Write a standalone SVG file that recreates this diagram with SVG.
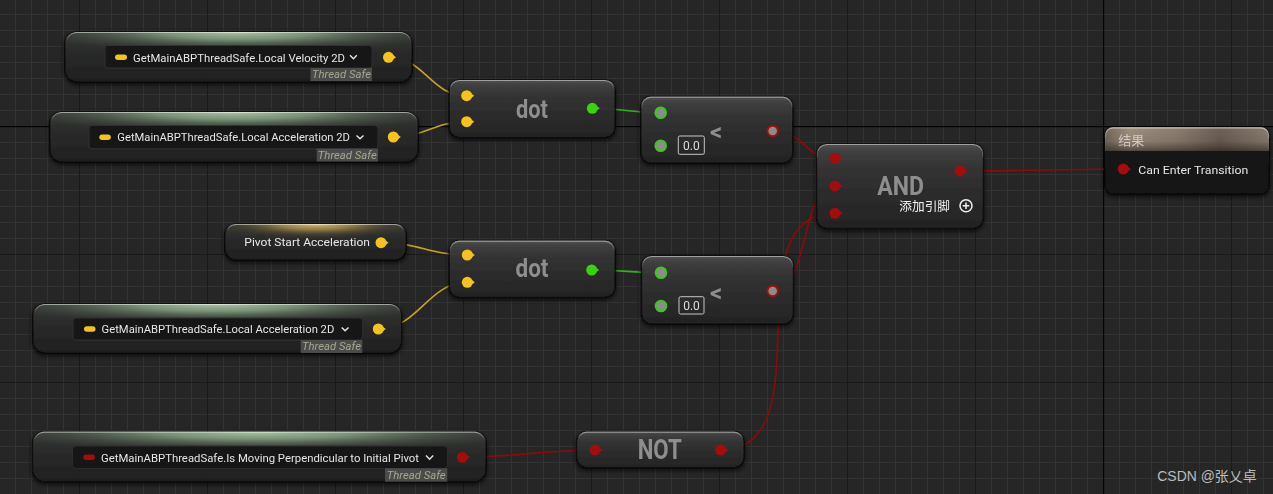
<svg xmlns="http://www.w3.org/2000/svg" width="1273" height="494" viewBox="0 0 1273 494">
<style>
.lbl{font-family:Roboto,"Liberation Sans",sans-serif;font-size:11.5px;fill:#e6e6e6}
.ts{font-family:Roboto,"Liberation Sans",sans-serif;font-size:11px;font-style:italic;fill:#a6a690;text-anchor:middle}
.tsb{fill:#4b4b4b}
.box{fill:#141414;stroke:#303030;stroke-width:1}
.chev{fill:none;stroke:#e8e8e8;stroke-width:1.4}
.title{font-family:Roboto,"Liberation Sans",sans-serif;font-weight:bold;fill:#8e8e8e;text-anchor:middle}
.body{fill:url(#gNode);fill-opacity:0.9;stroke:#080808;stroke-width:1.2}
.gbody{fill:url(#gGet);fill-opacity:0.92;stroke:#080808;stroke-width:1.2}
.hl{fill:none;stroke:url(#gHl);stroke-width:1.2}
.yel{fill:#f6c31b}
.red{fill:#a30d0d}
.grn{fill:#3ad10f}
.ringg{fill:#8c8c8c;stroke:#3cc81c;stroke-width:2}
.ringr{fill:#8c8c8c;stroke:#a00e0e;stroke-width:2}
.num{fill:none;stroke:#c4c4c4;stroke-width:1}
.numt{font-family:Roboto,"Liberation Sans",sans-serif;font-size:12px;fill:#dcdcdc;text-anchor:middle}
.w{fill:none;stroke-width:1.6}
.wy{stroke:#c9a21f}
.wg{stroke:#2fb51a}
.wr{stroke:#8e0a0a}
</style>
<defs>
<pattern id="minor" width="16" height="16" patternUnits="userSpaceOnUse">
<rect x="15" y="0" width="1" height="16" fill="#333333"/>
<rect x="0" y="14" width="16" height="1" fill="#333333"/>
</pattern>
<pattern id="major" width="128" height="128" patternUnits="userSpaceOnUse">
<rect x="79" y="0" width="1" height="128" fill="#1a1a1a"/>
<rect x="0" y="126" width="128" height="1" fill="#1a1a1a"/>
</pattern>
<linearGradient id="gNode" x1="0" y1="0" x2="0" y2="1">
<stop offset="0" stop-color="#565656"/>
<stop offset="0.08" stop-color="#444444"/>
<stop offset="0.3" stop-color="#353535"/>
<stop offset="0.65" stop-color="#2c2c2c"/>
<stop offset="1" stop-color="#242424"/>
</linearGradient>
<linearGradient id="gGet" x1="0" y1="0" x2="0" y2="1">
<stop offset="0" stop-color="#3a3c3a"/>
<stop offset="0.4" stop-color="#2a2b2a"/>
<stop offset="1" stop-color="#202020"/>
</linearGradient>
<linearGradient id="gHl" x1="0" y1="0" x2="0" y2="1">
<stop offset="0" stop-color="#ffffff" stop-opacity="0.55"/>
<stop offset="0.18" stop-color="#ffffff" stop-opacity="0.05"/>
<stop offset="1" stop-color="#ffffff" stop-opacity="0"/>
</linearGradient>
<radialGradient id="glowG" cx="0.5" cy="0" r="0.5" gradientTransform="translate(0.5 0) scale(1.25 0.85) translate(-0.5 0)">
<stop offset="0" stop-color="#b0cdac" stop-opacity="0.95"/>
<stop offset="0.35" stop-color="#90ae8c" stop-opacity="0.75"/>
<stop offset="0.7" stop-color="#5a6c58" stop-opacity="0.35"/>
<stop offset="1" stop-color="#303830" stop-opacity="0"/>
</radialGradient>
<radialGradient id="glowY" cx="0.5" cy="0" r="0.5" gradientTransform="translate(0.5 0) scale(1.2 0.9) translate(-0.5 0)">
<stop offset="0" stop-color="#e6c66a" stop-opacity="0.95"/>
<stop offset="0.35" stop-color="#b89a4a" stop-opacity="0.7"/>
<stop offset="0.7" stop-color="#5e5030" stop-opacity="0.3"/>
<stop offset="1" stop-color="#3a3020" stop-opacity="0"/>
</radialGradient>
<linearGradient id="gRes" x1="0" y1="0" x2="1" y2="0">
<stop offset="0" stop-color="#75685c"/>
<stop offset="0.15" stop-color="#a09080"/>
<stop offset="0.45" stop-color="#8c7d6e"/>
<stop offset="0.7" stop-color="#6e6056"/>
<stop offset="1" stop-color="#8a7d70"/>
</linearGradient>
<linearGradient id="gResV" x1="0" y1="0" x2="0" y2="1">
<stop offset="0" stop-color="#000" stop-opacity="0"/>
<stop offset="0.6" stop-color="#000" stop-opacity="0.1"/>
<stop offset="1" stop-color="#000" stop-opacity="0.45"/>
</linearGradient>
<filter id="sh" x="-10%" y="-30%" width="120%" height="160%">
<feDropShadow dx="0" dy="2" stdDeviation="2.5" flood-color="#000" flood-opacity="0.85"/>
</filter>
</defs>

<g id="background">
<rect width="1273" height="494" fill="#262626"/>
<rect width="1273" height="494" fill="url(#minor)"/>
<rect width="1273" height="494" fill="url(#major)"/>
<rect x="1103" y="0" width="1.2" height="494" fill="#040404"/>
<rect x="0" y="126" width="1273" height="1.2" fill="#040404"/>
</g>

<g id="connectors">
<path class="w wy" d="M388.5,57.3 C425,57.3 430,95.7 466.7,95.7"/>
<path class="w wy" d="M393.3,137 C425,137 435,121.7 466.7,121.7"/>
<path class="w wg" d="M592.3,108.3 C625,108.3 628,112.7 660.7,112.7"/>
<path class="w wr" d="M772.7,131 C805,131 803,158.3 835,158.3"/>
<path class="w wy" d="M381,242.7 C420,242.7 428,255 467.3,255"/>
<path class="w wy" d="M378.3,329 C418,329 428,282.3 467.3,282.3"/>
<path class="w wg" d="M591.7,270 C625,270 628,272.7 661,272.7"/>
<path class="w wr" d="M772.7,291 C810,291 800,186 835,186"/>
<path class="w wr" d="M720.7,450 C828,450 728,213.3 835,213.3"/>
<path class="w wr" d="M462.3,457.3 C510,457.3 548,450 595,450"/>
<path class="w wr" d="M960,171 C1010,171 1075,169 1123.3,169"/>
</g>

<g id="get-local-velocity-2d" filter="url(#sh)">
<rect class="gbody" x="65" y="32" width="347" height="50" rx="12"/>
<rect x="65" y="32" width="347" height="50" rx="12" fill="url(#glowG)"/>
<rect class="hl" x="65.5" y="32.5" width="346" height="49" rx="11.5"/>
<rect class="box" x="105" y="45.5" width="267" height="22.5" rx="3"/>
<rect class="yel" x="115" y="54.5" width="12" height="5.5" rx="2.75"/>
<text class="lbl" x="133" y="61.5" textLength="212" lengthAdjust="spacingAndGlyphs">GetMainABPThreadSafe.Local Velocity 2D</text>
<polyline class="chev" points="350,55.3 353.4,58.7 356.8,55.3"/>
<rect class="tsb" x="310.5" y="68" width="61.5" height="13"/>
<text class="ts" x="341.5" y="78.3" textLength="59" lengthAdjust="spacingAndGlyphs">Thread Safe</text>
<circle class="yel" cx="388.5" cy="57.3" r="5.5"/>
<polygon class="yel" points="393,55 396,57.3 393,59.6"/>
</g>

<g id="get-local-acceleration-2d-a" filter="url(#sh)">
<rect class="gbody" x="50" y="112" width="368" height="50" rx="12"/>
<rect x="50" y="112" width="368" height="50" rx="12" fill="url(#glowG)"/>
<rect class="hl" x="50.5" y="112.5" width="367" height="49" rx="11.5"/>
<rect class="box" x="89" y="125.7" width="289" height="23" rx="3"/>
<rect class="yel" x="99.3" y="134.5" width="11.5" height="5.5" rx="2.75"/>
<text class="lbl" x="117.3" y="141.3" textLength="232.7" lengthAdjust="spacingAndGlyphs">GetMainABPThreadSafe.Local Acceleration 2D</text>
<polyline class="chev" points="356.5,135.4 360,138.8 363.5,135.4"/>
<rect class="tsb" x="316.7" y="148.7" width="61.3" height="12.8"/>
<text class="ts" x="347.3" y="158.6" textLength="59" lengthAdjust="spacingAndGlyphs">Thread Safe</text>
<circle class="yel" cx="393.3" cy="137" r="5.5"/>
<polygon class="yel" points="397.8,134.7 400.8,137 397.8,139.3"/>
</g>

<g id="get-pivot-start-acceleration" filter="url(#sh)">
<rect class="gbody" x="225" y="224" width="181" height="36" rx="11"/>
<rect x="225" y="224" width="181" height="36" rx="11" fill="url(#glowY)"/>
<rect class="hl" x="225.5" y="224.5" width="180" height="35" rx="10.5"/>
<text class="lbl" x="244.3" y="246" textLength="125.7" lengthAdjust="spacingAndGlyphs">Pivot Start Acceleration</text>
<circle class="yel" cx="381" cy="242.7" r="5.5"/>
<polygon class="yel" points="385.5,240.4 388.5,242.7 385.5,245"/>
</g>

<g id="get-local-acceleration-2d-b" filter="url(#sh)">
<rect class="gbody" x="33" y="304" width="368.5" height="49" rx="12"/>
<rect x="33" y="304" width="368.5" height="49" rx="12" fill="url(#glowG)"/>
<rect class="hl" x="33.5" y="304.5" width="367.5" height="48" rx="11.5"/>
<rect class="box" x="73" y="318" width="289.3" height="22" rx="3"/>
<rect class="yel" x="84" y="326.3" width="11.5" height="5.5" rx="2.75"/>
<text class="lbl" x="101.6" y="333.3" textLength="232.7" lengthAdjust="spacingAndGlyphs">GetMainABPThreadSafe.Local Acceleration 2D</text>
<polyline class="chev" points="341.7,327.4 345.1,330.8 348.5,327.4"/>
<rect class="tsb" x="300.7" y="340" width="61.6" height="13"/>
<text class="ts" x="331.5" y="350.2" textLength="59" lengthAdjust="spacingAndGlyphs">Thread Safe</text>
<circle class="yel" cx="378.3" cy="329" r="5.5"/>
<polygon class="yel" points="382.8,326.7 385.8,329 382.8,331.3"/>
</g>

<g id="get-is-moving-perpendicular" filter="url(#sh)">
<rect class="gbody" x="32.7" y="431.7" width="453.3" height="50" rx="12"/>
<rect x="32.7" y="431.7" width="453.3" height="50" rx="12" fill="url(#glowG)"/>
<rect class="hl" x="33.2" y="432.2" width="452.3" height="49" rx="11.5"/>
<rect class="box" x="72.7" y="446" width="374.6" height="22.3" rx="3"/>
<rect class="red" x="83.3" y="454.5" width="11.7" height="5.5" rx="2.75"/>
<text class="lbl" x="101" y="461.5" textLength="318" lengthAdjust="spacingAndGlyphs">GetMainABPThreadSafe.Is Moving Perpendicular to Initial Pivot</text>
<polyline class="chev" points="426,455.6 429.6,459.2 433.2,455.6"/>
<rect class="tsb" x="385" y="468.3" width="62.3" height="13.4"/>
<text class="ts" x="416.2" y="478.7" textLength="59" lengthAdjust="spacingAndGlyphs">Thread Safe</text>
<circle class="red" cx="462.3" cy="457.3" r="5.5"/>
<polygon class="red" points="466.8,455 469.8,457.3 466.8,459.6"/>
</g>

<g id="dot-1" filter="url(#sh)">
<rect class="body" x="449.3" y="80" width="165.7" height="57.7" rx="10"/>
<rect class="hl" x="449.8" y="80.5" width="164.7" height="56.7" rx="9.5"/>
<text class="title" x="532" y="118" font-size="25" textLength="32" lengthAdjust="spacingAndGlyphs">dot</text>
<circle class="yel" cx="466.7" cy="95.7" r="5.5"/>
<polygon class="yel" points="471.2,93.4 474.2,95.7 471.2,98"/>
<circle class="yel" cx="466.7" cy="121.7" r="5.5"/>
<polygon class="yel" points="471.2,119.4 474.2,121.7 471.2,124"/>
<circle class="grn" cx="592.3" cy="108.3" r="5.5"/>
<polygon class="grn" points="596.8,106 599.8,108.3 596.8,110.6"/>
</g>

<g id="dot-2" filter="url(#sh)">
<rect class="body" x="449.3" y="240.7" width="165.7" height="56.6" rx="10"/>
<rect class="hl" x="449.8" y="241.2" width="164.7" height="55.6" rx="9.5"/>
<text class="title" x="532" y="277.3" font-size="25" textLength="33" lengthAdjust="spacingAndGlyphs">dot</text>
<circle class="yel" cx="467.3" cy="255" r="5.5"/>
<polygon class="yel" points="471.8,252.7 474.8,255 471.8,257.3"/>
<circle class="yel" cx="467.3" cy="282.3" r="5.5"/>
<polygon class="yel" points="471.8,280 474.8,282.3 471.8,284.6"/>
<circle class="grn" cx="591.7" cy="270" r="5.5"/>
<polygon class="grn" points="596.2,267.7 599.2,270 596.2,272.3"/>
</g>

<g id="less-1" filter="url(#sh)">
<rect class="body" x="641" y="96.7" width="151.7" height="66.3" rx="10"/>
<rect class="hl" x="641.5" y="97.2" width="150.7" height="65.3" rx="9.5"/>
<circle class="ringg" cx="660.7" cy="112.7" r="5.3"/>
<circle class="ringg" cx="660.7" cy="145.7" r="5.3"/>
<rect class="num" x="678.3" y="136" width="26" height="18.3" rx="1.5"/>
<text class="numt" x="691.3" y="149.5">0.0</text>
<text class="title" x="716.2" y="140" font-size="24">&lt;</text>
<circle class="ringr" cx="772.7" cy="131" r="5.3"/>
</g>

<g id="less-2" filter="url(#sh)">
<rect class="body" x="641.7" y="256" width="151.6" height="68" rx="10"/>
<rect class="hl" x="642.2" y="256.5" width="150.6" height="67" rx="9.5"/>
<circle class="ringg" cx="661" cy="272.7" r="5.3"/>
<circle class="ringg" cx="661" cy="306" r="5.3"/>
<rect class="num" x="679" y="296.7" width="25" height="17.3" rx="1.5"/>
<text class="numt" x="691.5" y="309.7">0.0</text>
<text class="title" x="716.2" y="300.5" font-size="24">&lt;</text>
<circle class="ringr" cx="772.7" cy="291" r="5.3"/>
</g>

<g id="and" filter="url(#sh)">
<rect class="body" x="816.7" y="144" width="166.6" height="84.3" rx="10"/>
<rect class="hl" x="817.2" y="144.5" width="165.6" height="83.3" rx="9.5"/>
<text class="title" x="900.7" y="195" font-size="25.5" textLength="46.7" lengthAdjust="spacingAndGlyphs">AND</text>
<circle class="red" cx="835" cy="158.3" r="5.5"/>
<polygon class="red" points="839.5,156 842.5,158.3 839.5,160.6"/>
<circle class="red" cx="835" cy="186" r="5.5"/>
<polygon class="red" points="839.5,183.7 842.5,186 839.5,188.3"/>
<circle class="red" cx="835" cy="213.3" r="5.5"/>
<polygon class="red" points="839.5,211 842.5,213.3 839.5,215.6"/>
<circle class="red" cx="960" cy="171" r="5.5"/>
<polygon class="red" points="964.5,168.7 967.5,171 964.5,173.3"/>
<text x="899.3" y="210.5" font-family="'Noto Sans CJK SC',sans-serif" font-size="12.5" fill="#f0f0f0" textLength="50.7" lengthAdjust="spacingAndGlyphs">添加引脚</text>
<circle cx="966" cy="205.7" r="6" fill="none" stroke="#f0f0f0" stroke-width="1.5"/>
<path d="M962.7,205.7 H969.3 M966,202.4 V209" stroke="#f0f0f0" stroke-width="1.5"/>
</g>

<g id="not" filter="url(#sh)">
<rect class="body" x="576.7" y="431.7" width="167.3" height="36" rx="10"/>
<rect class="hl" x="577.2" y="432.2" width="166.3" height="35" rx="9.5"/>
<text class="title" x="659.7" y="459" font-size="27" textLength="44" lengthAdjust="spacingAndGlyphs">NOT</text>
<circle class="red" cx="595" cy="450" r="5.5"/>
<polygon class="red" points="599.5,447.7 602.5,450 599.5,452.3"/>
<circle class="red" cx="720.7" cy="450" r="5.5"/>
<polygon class="red" points="725.2,447.7 728.2,450 725.2,452.3"/>
</g>

<g id="result" filter="url(#sh)">
<rect x="1105" y="127.3" width="164" height="66.7" rx="8" fill="#151515" fill-opacity="0.95" stroke="#080808" stroke-width="1.2"/>
<path d="M1105,150.7 V135.3 a8,8 0 0 1 8,-8 H1261 a8,8 0 0 1 8,8 V150.7 Z" fill="url(#gRes)"/>
<path d="M1105,150.7 V135.3 a8,8 0 0 1 8,-8 H1261 a8,8 0 0 1 8,8 V150.7 Z" fill="url(#gResV)"/>
<rect class="hl" x="1105.5" y="127.8" width="163" height="65.7" rx="7.5"/>
<text x="1118.3" y="145.3" font-family="'Noto Sans CJK SC',sans-serif" font-size="13" fill="#d2cac2">结果</text>
<circle class="red" cx="1123.3" cy="169" r="5.5"/>
<polygon class="red" points="1127.8,166.7 1130.8,169 1127.8,171.3"/>
<text class="lbl" x="1138.3" y="173.5" textLength="110" lengthAdjust="spacingAndGlyphs">Can Enter Transition</text>
</g>

<text x="1157.3" y="481" font-family="'Liberation Sans','Noto Sans CJK SC',sans-serif" font-size="14" fill="#bdbdbd" textLength="99.4" lengthAdjust="spacingAndGlyphs">CSDN @张乂卓</text>
</svg>
